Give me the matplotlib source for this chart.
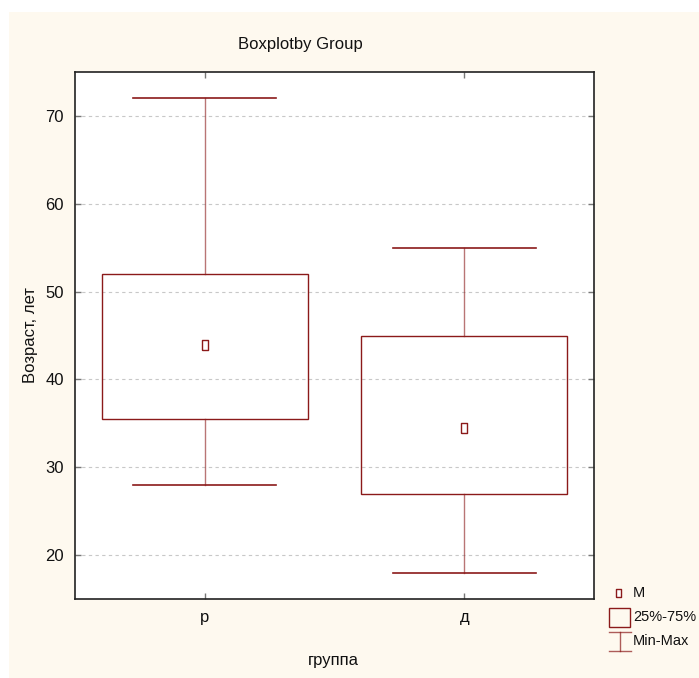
import matplotlib
matplotlib.use("Agg")
import matplotlib.pyplot as plt
from matplotlib.patches import Rectangle
from matplotlib.lines import Line2D
from matplotlib import font_manager

names = {f.name for f in font_manager.fontManager.ttflist}
FAM = ['Liberation Sans Narrow', 'Liberation Sans', 'DejaVu Sans'] if 'Liberation Sans Narrow' in names else ['Liberation Sans', 'DejaVu Sans']
plt.rcParams['font.family'] = FAM

categories = ['р', 'д']
mins = [28, 18]
q25 = [35.5, 27]
means = [43.9, 34.5]
q75 = [52, 45]
maxs = [72, 55]
yticks = [20, 30, 40, 50, 60, 70]

RED = '#8b1a1a'
CREAM = '#fef9ef'

W, H = 699, 678
fig = plt.figure(figsize=(W / 100, H / 100), dpi=100, facecolor='white')
fig.patches.append(Rectangle((9 / W, 0), 1, 1 - 12 / H, transform=fig.transFigure,
                             facecolor=CREAM, edgecolor='none', zorder=-10))

ax = fig.add_axes([75 / W, 1 - 599 / H, (594 - 75) / W, (599 - 72) / H])
ax.set_facecolor('white')
pos = list(range(1, len(categories) + 1))
bw = 0.795
cw = 0.55
for x, lo, a, m, b, hi in zip(pos, mins, q25, means, q75, maxs):
    ax.add_patch(Rectangle((x - bw / 2, a), bw, b - a, facecolor='none', edgecolor=RED, lw=1, zorder=3))
    ax.plot([x, x], [b, hi], color=RED, lw=1, alpha=0.6, zorder=3)
    ax.plot([x, x], [lo, a], color=RED, lw=1, alpha=0.6, zorder=3)
    ax.plot([x - cw / 2, x + cw / 2], [hi, hi], color=RED, lw=1.2, zorder=3)
    ax.plot([x - cw / 2, x + cw / 2], [lo, lo], color=RED, lw=1.2, zorder=3)
rect_marker = [(-0.6, -1), (0.6, -1), (0.6, 1), (-0.6, 1), (-0.6, -1)]
ax.plot(pos, means, linestyle='none', marker=rect_marker, markersize=7,
        markerfacecolor='white', markeredgecolor=RED, markeredgewidth=1, zorder=4)

ax.set_xlim(0.5, len(categories) + 0.5)
ax.set_ylim(15, 75)
ax.set_xticks(pos)
ax.set_xticklabels(categories)
ax.set_yticks(yticks)
ax.grid(axis='y', linestyle=(0, (3, 3)), color='#c8c8c8', lw=0.8)
ax.set_axisbelow(True)
ax.tick_params(direction='in', length=4, width=1, color='#777777', labelsize=12, pad=8,
               top=True, right=True, labelcolor='#111111')
for s in ax.spines.values():
    s.set_color('#222222')
    s.set_linewidth(1.2)

fig.text(300 / W, 1 - 45 / H, 'Boxplotby Group', ha='center', va='center', fontsize=12, color='#111111')
fig.text(30 / W, 1 - 335 / H, 'Возраст, лет', ha='center', va='center', rotation=90, fontsize=12,
         color='#111111')
fig.text(333 / W, 1 - 661 / H, 'группа', ha='center', va='center', fontsize=12, color='#111111')

# legend
def fx(px):
    return px / W

def fy(py):
    return 1 - py / H

fig.add_artist(Line2D([fx(618)], [fy(593)], transform=fig.transFigure, linestyle='none',
                      marker=rect_marker, markersize=6, markerfacecolor='white',
                      markeredgecolor=RED, markeredgewidth=1))
fig.patches.append(Rectangle((fx(609), fy(627)), fx(630) - fx(609), fy(608) - fy(627),
                             transform=fig.transFigure, facecolor='none', edgecolor=RED, lw=1))
fig.add_artist(Line2D([fx(609), fx(631)], [fy(632), fy(632)], transform=fig.transFigure, color=RED, lw=1, alpha=0.7))
fig.add_artist(Line2D([fx(609), fx(631)], [fy(651), fy(651)], transform=fig.transFigure, color=RED, lw=1, alpha=0.7))
fig.add_artist(Line2D([fx(620), fx(620)], [fy(632), fy(651)], transform=fig.transFigure, color=RED, lw=1, alpha=0.7))
for txt, py in [('M', 593), ('25%-75%', 617), ('Min-Max', 641)]:
    fig.text(fx(633), fy(py), txt, ha='left', va='center', fontsize=10.5, color='#111111')

fig.savefig('out.png', dpi=100, facecolor='white')
